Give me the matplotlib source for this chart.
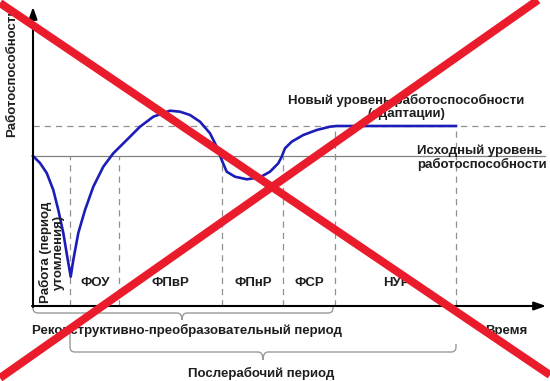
import matplotlib
matplotlib.use("Agg")
import matplotlib.pyplot as plt
from matplotlib.path import Path
from matplotlib.patches import PathPatch

plt.rcParams['font.family'] = ['Liberation Sans', 'DejaVu Sans']

# performance curve (time, working capacity), arbitrary units
curve_t = [0, 7, 13.7, 20.3, 25.3, 30.3, 34.3, 37.7, 40.3, 45.3, 52, 60.3, 70.3,
           80.3, 93.7, 107, 120.3, 137, 147, 157, 167, 177, 183.7, 188.7, 193.7,
           202, 213.7, 227, 237, 245.3, 248.7, 252, 258.7, 270.3, 283.7, 297,
           303.7, 423]
curve_w = [150, 143, 133, 116, 96, 73, 49, 29.3, 46, 73, 96, 119.3, 139.3,
           152.7, 166, 179.3, 189.3, 195.3, 194.3, 191, 184.3, 172.7, 159.3, 146, 134.3,
           129.3, 126.7, 128.7, 134.3, 142.7, 149.3, 157.7, 164.3, 171, 176, 179.3,
           180, 180]

baseline_level = 150
new_level = 180
phase_bounds = [37, 86, 189, 250, 302, 423]
phase_tops = [150, 150, 150, 150, 180, 180]
phase_names = ["ФОУ", "ФПвР", "ФПнР", "ФСР", "НУР"]
phase_centers = [62, 137, 220, 276, 363]

fig = plt.figure(figsize=(5.5, 3.81), dpi=100)
ax = fig.add_axes([0, 0, 1, 1])
ax.set_xlim(-33, 517)
ax.set_ylim(-75, 306)
ax.axis("off")

txt = dict(color="#1e1e1e", fontsize=9.5, fontweight="bold")

# reference levels
ax.plot([0, 512], [baseline_level, baseline_level], color="#808080", lw=0.9)
ax.plot([0, 512], [new_level, new_level], color="#909090", lw=0.9,
        dashes=(5, 4))
for x, top in zip(phase_bounds, phase_tops):
    ax.plot([x, x], [0, top], color="#909090", lw=0.9, dashes=(5, 4))

# curve
ax.plot(curve_t, curve_w, color="#1c1cb8", lw=1.9, solid_joinstyle="round")

# axes with arrows
ax.annotate("", xy=(0, 299), xytext=(0, -1),
            arrowprops=dict(arrowstyle="-|>,head_length=0.7,head_width=0.25",
                            color="black", lw=1.5, shrinkA=0, shrinkB=0))
ax.annotate("", xy=(513, 0), xytext=(-1, 0),
            arrowprops=dict(arrowstyle="-|>,head_length=0.7,head_width=0.25",
                            color="black", lw=1.5, shrinkA=0, shrinkB=0))

# texts
ax.text(-21, 234, "Работоспособность", rotation=90, ha="center", va="center", **txt)
ax.text(18.5, 54, "Работа (период\nутомления)", rotation=90, ha="center",
        va="center", linespacing=1.1, **txt)
for name, x in zip(phase_names, phase_centers):
    ax.text(x, 23, name, ha="center", va="center", **txt)
ax.text(373, 199, "Новый уровень работоспособности\n(адаптации)", ha="center",
        va="center", linespacing=1.05, **txt)
ax.text(384, 148, "Исходный уровень\nработоспособности", ha="left",
        va="center", linespacing=1.05, **txt)
ax.text(473, -25, "Время", ha="center", va="center", **txt)
ax.text(154, -24, "Реконструктивно-преобразовательный период", ha="center",
        va="center", **txt)
ax.text(228, -67, "Послерабочий период", ha="center", va="center", **txt)


def brace(x0, x1, xm, ytop0, ytop1, yh, ytip, r=5):
    verts = [(x0, ytop0), (x0, yh + r), (x0, yh), (x0 + r, yh),
             (xm - r, yh), (xm, yh), (xm, ytip),
             (xm, yh), (xm + r, yh),
             (x1 - r, yh), (x1, yh), (x1, yh + r), (x1, ytop1)]
    codes = [Path.MOVETO, Path.LINETO, Path.CURVE3, Path.CURVE3,
             Path.LINETO, Path.CURVE3, Path.CURVE3,
             Path.CURVE3, Path.CURVE3,
             Path.LINETO, Path.CURVE3, Path.CURVE3, Path.LINETO]
    ax.add_patch(PathPatch(Path(verts, codes), fill=False, ec="#9a9a9a", lw=1))


brace(0, 300, 149, 0, 0, -7, -14)
brace(37, 423, 230, -26, -38, -46, -54)

# red cross over the whole picture
ax.plot([-33, 517], [303, -69], color="#ea1c2c", lw=5.8, solid_capstyle="butt",
        clip_on=False, zorder=10)
ax.plot([-33, 505], [-72, 306], color="#ea1c2c", lw=5.8, solid_capstyle="butt",
        clip_on=False, zorder=10)

fig.savefig("out.png", dpi=100)
